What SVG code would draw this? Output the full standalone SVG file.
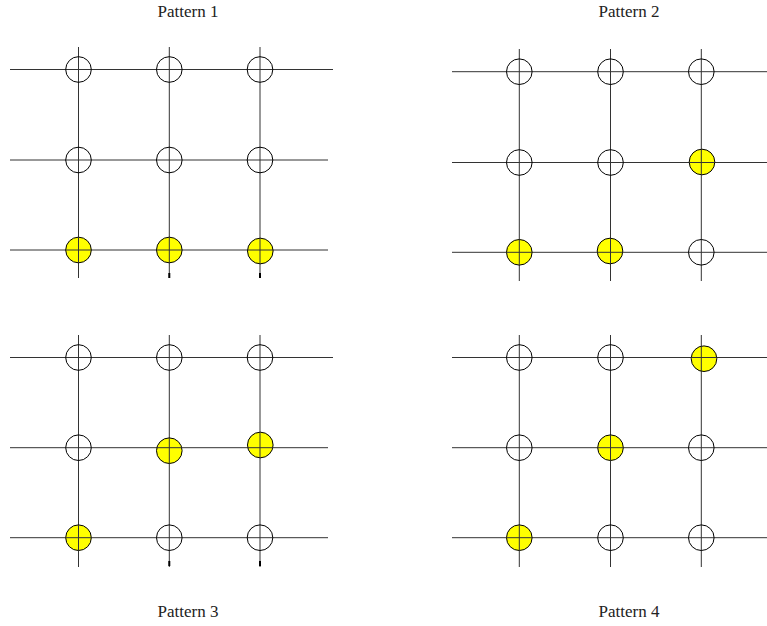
<svg xmlns="http://www.w3.org/2000/svg" width="767" height="626" viewBox="0 0 767 626">
<style>
.t{font-family:"Liberation Serif","Times New Roman",serif;font-size:17px;fill:#222;text-anchor:middle}
.l{stroke:#333;stroke-width:1;fill:none}
.k{stroke:#000;stroke-width:2;fill:none}
.o{fill:#fff;fill-opacity:0;stroke:#000;stroke-width:1}
.y{fill:#ffff00;stroke:#000;stroke-width:1}
</style>
<rect width="767" height="626" fill="#fff"/>
<g id="titles">
<text id="title1" class="t" x="188" y="17">Pattern 1</text>
<text id="title2" class="t" x="629" y="17">Pattern 2</text>
<text id="title3" class="t" x="188" y="617">Pattern 3</text>
<text id="title4" class="t" x="629" y="617">Pattern 4</text>
</g>
<g id="connectors">
<!-- Pattern 1 -->
<line class="l" x1="10" y1="69.5" x2="333" y2="69.5"/>
<line class="l" x1="10" y1="160" x2="328" y2="160"/>
<line class="l" x1="10" y1="250" x2="328" y2="250"/>
<line class="l" x1="78.5" y1="47" x2="78.5" y2="278"/>
<line class="l" x1="169.3" y1="47" x2="169.3" y2="278"/>
<line class="l" x1="260" y1="47" x2="260" y2="278"/>
<line class="k" x1="169.3" y1="273" x2="169.3" y2="278"/>
<line class="k" x1="260" y1="273" x2="260" y2="278"/>
<!-- Pattern 2 -->
<line class="l" x1="452" y1="71.7" x2="767" y2="71.7"/>
<line class="l" x1="452" y1="162.5" x2="767" y2="162.5"/>
<line class="l" x1="452" y1="252.3" x2="767" y2="252.3"/>
<line class="l" x1="519.3" y1="49" x2="519.3" y2="281"/>
<line class="l" x1="610.5" y1="49" x2="610.5" y2="281"/>
<line class="l" x1="701.3" y1="49" x2="701.3" y2="281"/>
<!-- Pattern 3 -->
<line class="l" x1="10" y1="357.5" x2="333" y2="357.5"/>
<line class="l" x1="10" y1="447.7" x2="328" y2="447.7"/>
<line class="l" x1="10" y1="537.7" x2="328" y2="537.7"/>
<line class="l" x1="78.5" y1="335" x2="78.5" y2="567"/>
<line class="l" x1="169.3" y1="335" x2="169.3" y2="567"/>
<line class="l" x1="260" y1="335" x2="260" y2="567"/>
<line class="k" x1="169.3" y1="561" x2="169.3" y2="566"/>
<line class="k" x1="260" y1="561" x2="260" y2="566"/>
<!-- Pattern 4 -->
<line class="l" x1="452" y1="357.5" x2="767" y2="357.5"/>
<line class="l" x1="452" y1="447.7" x2="767" y2="447.7"/>
<line class="l" x1="452" y1="537.7" x2="767" y2="537.7"/>
<line class="l" x1="519.3" y1="335" x2="519.3" y2="567"/>
<line class="l" x1="610.5" y1="335" x2="610.5" y2="567"/>
<line class="l" x1="701.3" y1="335" x2="701.3" y2="567"/>
</g>
<g id="pattern1">
<g id="p1n11"><circle class="o" cx="78.5" cy="69.5" r="12.8"/></g>
<g id="p1n12"><circle class="o" cx="169.3" cy="69.5" r="12.8"/></g>
<g id="p1n13"><circle class="o" cx="260" cy="69.5" r="12.8"/></g>
<g id="p1n21"><circle class="o" cx="78.5" cy="160" r="12.8"/></g>
<g id="p1n22"><circle class="o" cx="169.3" cy="160" r="12.8"/></g>
<g id="p1n23"><circle class="o" cx="260" cy="160" r="12.8"/></g>
<g id="p1n31"><circle class="y" cx="78.5" cy="250" r="12.8"/><path class="l" d="M65.7 250H91.3M78.5 237.2V262.8"/></g>
<g id="p1n32"><circle class="y" cx="169.3" cy="250" r="12.8"/><path class="l" d="M156.5 250H182.1M169.3 237.2V262.8"/></g>
<g id="p1n33"><circle class="y" cx="260.3" cy="251" r="12.8"/><path class="l" d="M247.5 250H273.1M260 238.2V263.8"/></g>
</g>
<g id="pattern2">
<g id="p2n11"><circle class="o" cx="519.3" cy="71.7" r="12.8"/></g>
<g id="p2n12"><circle class="o" cx="610.5" cy="71.7" r="12.8"/></g>
<g id="p2n13"><circle class="o" cx="701.3" cy="71.7" r="12.8"/></g>
<g id="p2n21"><circle class="o" cx="519.3" cy="162.5" r="12.8"/></g>
<g id="p2n22"><circle class="o" cx="610.5" cy="162.5" r="12.8"/></g>
<g id="p2n23"><circle class="y" cx="702" cy="162" r="12.8"/><path class="l" d="M689.2 162.5H714.8M701.3 149.2V174.8"/></g>
<g id="p2n31"><circle class="y" cx="519.3" cy="252.3" r="12.8"/><path class="l" d="M506.5 252.3H532.1M519.3 239.5V265.1"/></g>
<g id="p2n32"><circle class="y" cx="610" cy="251" r="12.8"/><path class="l" d="M597.2 252.3H622.8M610.5 238.2V263.8"/></g>
<g id="p2n33"><circle class="o" cx="701.3" cy="252.3" r="12.8"/></g>
</g>
<g id="pattern3">
<g id="p3n11"><circle class="o" cx="78.5" cy="357.5" r="12.8"/></g>
<g id="p3n12"><circle class="o" cx="169.3" cy="357.5" r="12.8"/></g>
<g id="p3n13"><circle class="o" cx="260" cy="357.5" r="12.8"/></g>
<g id="p3n21"><circle class="o" cx="78.5" cy="447.7" r="12.8"/></g>
<g id="p3n22"><circle class="y" cx="169.3" cy="450.7" r="12.8"/><path class="l" d="M156.5 447.7H182.1M169.3 437.9V463.5"/></g>
<g id="p3n23"><circle class="y" cx="260.3" cy="445" r="12.8"/><path class="l" d="M247.5 447.7H273.1M260 432.2V457.8"/></g>
<g id="p3n31"><circle class="y" cx="78.5" cy="537.7" r="12.8"/><path class="l" d="M65.7 537.7H91.3M78.5 524.9V550.5"/></g>
<g id="p3n32"><circle class="o" cx="169.3" cy="537.7" r="12.8"/></g>
<g id="p3n33"><circle class="o" cx="260" cy="537.7" r="12.8"/></g>
</g>
<g id="pattern4">
<g id="p4n11"><circle class="o" cx="519.3" cy="357.5" r="12.8"/></g>
<g id="p4n12"><circle class="o" cx="610.5" cy="357.5" r="12.8"/></g>
<g id="p4n13"><circle class="y" cx="704" cy="358.7" r="12.8"/><path class="l" d="M691.2 357.5H716.8M701.3 345.9V371.5"/></g>
<g id="p4n21"><circle class="o" cx="519.3" cy="447.7" r="12.8"/></g>
<g id="p4n22"><circle class="y" cx="610.5" cy="447.7" r="12.8"/><path class="l" d="M597.7 447.7H623.3M610.5 434.9V460.5"/></g>
<g id="p4n23"><circle class="o" cx="701.3" cy="447.7" r="12.8"/></g>
<g id="p4n31"><circle class="y" cx="519.3" cy="537.7" r="12.8"/><path class="l" d="M506.5 537.7H532.1M519.3 524.9V550.5"/></g>
<g id="p4n32"><circle class="o" cx="610.5" cy="537.7" r="12.8"/></g>
<g id="p4n33"><circle class="o" cx="701.3" cy="537.7" r="12.8"/></g>
</g>
</svg>
